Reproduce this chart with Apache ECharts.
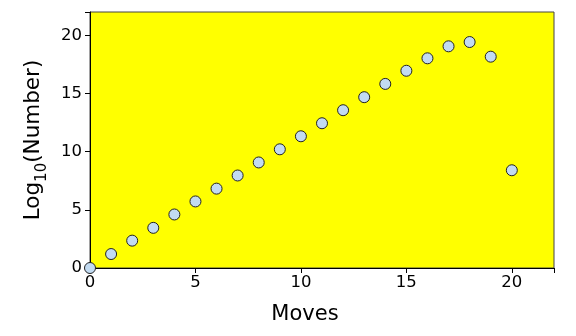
<!DOCTYPE html>
<html><head><meta charset="utf-8">
<script src="https://cdn.jsdelivr.net/npm/echarts@6/dist/echarts.min.js"></script>
<style>html,body{margin:0;padding:0;background:#fff}#c{width:576px;height:336px}</style>
</head><body><div id="c"></div>
<script>
const moves = [0,1,2,3,4,5,6,7,8,9,10,11,12,13,14,15,16,17,18,19,20];
const logNumber = [0,1.2,2.35,3.45,4.6,5.72,6.82,7.95,9.07,10.2,11.32,12.44,13.56,14.68,15.82,16.95,18.02,19.05,19.42,18.16,8.4];
const xTicks = [0,5,10,15,20];
const yTicks = [0,5,10,15,20];

const chart = echarts.init(document.getElementById('c'), null, {renderer:'canvas'});
const font = 'DejaVu Sans';
chart.setOption({
  animation:false,
  backgroundColor:'#fff',
  grid:{left:90,right:22,top:12,bottom:68,show:true,backgroundColor:'#ffff00',borderColor:'#444',borderWidth:1},
  xAxis:{type:'value',min:0,max:22,interval:5,
    name:'Moves',nameLocation:'middle',nameGap:36,
    nameTextStyle:{fontFamily:font,fontSize:21,color:'#000',padding:[0,34,0,0]},
    axisLine:{show:true,lineStyle:{color:'#000',width:1}},
    axisTick:{show:true,length:5,lineStyle:{color:'#000'}},
    axisLabel:{fontFamily:font,fontSize:16.5,color:'#000',margin:6,
      formatter:v=>xTicks.includes(v)?String(v):''},
    splitLine:{show:false}},
  yAxis:{type:'value',min:0,max:22,interval:5,
    name:'{a|Log}{b|10}{a|(Number)}',nameLocation:'middle',nameGap:45,nameRotate:90,
    nameTextStyle:{fontFamily:font,color:'#000',rich:{
      a:{fontFamily:font,fontSize:21.5,color:'#000',lineHeight:26,verticalAlign:'bottom'},
      b:{fontFamily:font,fontSize:15,color:'#000',lineHeight:26,verticalAlign:'bottom',padding:[0,0,-6,0]}}},
    axisLine:{show:true,lineStyle:{color:'#000',width:1}},
    axisTick:{show:true,length:5,lineStyle:{color:'#000'}},
    axisLabel:{fontFamily:font,fontSize:16.5,color:'#000',margin:8,
      formatter:v=>yTicks.includes(v)?String(v):''},
    splitLine:{show:false}},
  series:[{type:'scatter',data:moves.map((m,i)=>[m,logNumber[i]]),
    symbol:'circle',symbolSize:11,clip:false,
    itemStyle:{color:'#c2dbf2',borderColor:'#222',borderWidth:1,opacity:1}}]
});
</script></body></html>
